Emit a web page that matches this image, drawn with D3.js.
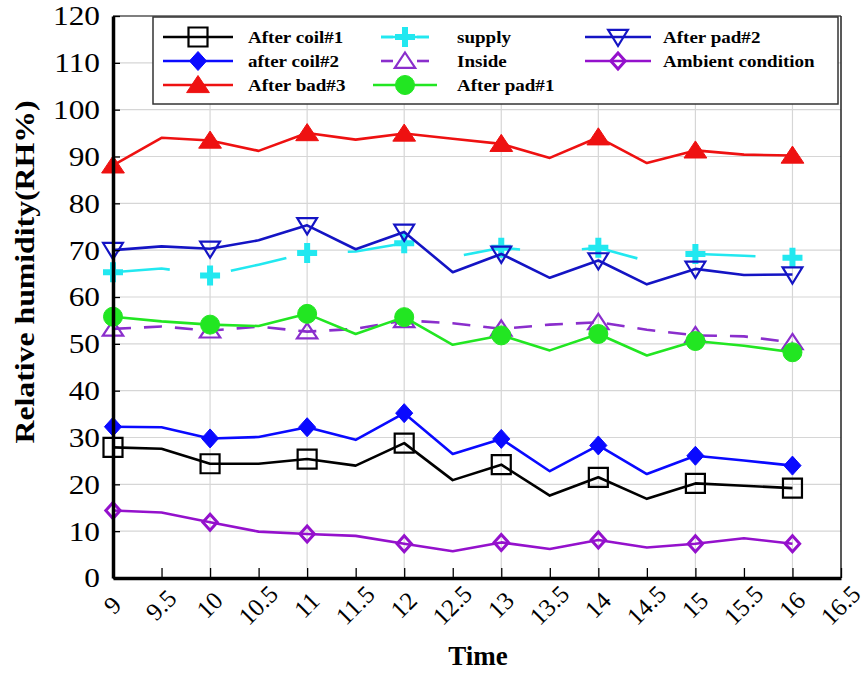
<!DOCTYPE html>
<html><head><meta charset="utf-8">
<script src="https://cdn.jsdelivr.net/npm/d3@7"></script>
<style>body{margin:0;background:#fff}</style></head><body>
<svg id="c" width="867" height="673"></svg>
<script>
const times=[9,9.5,10,10.5,11,11.5,12,12.5,13,13.5,14,14.5,15,15.5,16];
const xTicks=[9,9.5,10,10.5,11,11.5,12,12.5,13,13.5,14,14.5,15,15.5,16,16.5];
const yTicks=[0,10,20,30,40,50,60,70,80,90,100,110,120];
const afterCoil1=[27.9,27.6,24.4,24.4,25.4,24.0,28.8,20.9,24.2,17.6,21.5,16.9,20.2,19.7,19.2];
const afterCoil2=[32.3,32.2,29.8,30.1,32.2,29.5,35.2,26.5,29.7,22.8,28.3,22.2,26.1,25.1,24.0];
const afterBad3=[88.1,94.0,93.4,91.2,95.0,93.6,94.9,93.8,92.7,89.7,94.1,88.6,91.3,90.4,90.2];
const supply=[65.3,66.1,64.6,66.9,69.4,69.7,71.5,68.5,70.5,69.6,70.5,67.7,69.2,68.8,68.4];
const inside=[53.2,53.7,52.8,53.7,52.6,53.2,55.0,54.4,53.2,54.1,54.6,53.0,51.8,51.6,50.3];
const afterPad1=[55.8,54.8,54.1,53.8,56.4,52.1,55.7,49.8,51.8,48.6,52.1,47.5,50.6,49.6,48.2];
const afterPad2=[70.0,70.8,70.3,72.1,75.3,70.2,73.9,65.3,69.2,64.1,67.8,62.7,66.0,64.7,64.8];
const ambient=[14.4,14.0,11.9,9.9,9.4,9.0,7.3,5.7,7.6,6.2,8.1,6.5,7.3,8.5,7.3];
const seriesNames=["After coil#1","after coil#2","After bad#3","supply","Inside","After pad#1","After pad#2","Ambient condition"];
const seriesValues=[afterCoil1,afterCoil2,afterBad3,supply,inside,afterPad1,afterPad2,ambient];
const xLabel="Time", yLabel="Relative humidity(RH%)";

const styles=[
 {color:"#000000",marker:"square",dash:null},
 {color:"#0a0aff",marker:"diamond",dash:null},
 {color:"#ee1111",marker:"triangle",dash:null},
 {color:"#22e8f0",marker:"plus",dash:"57,62"},
 {color:"#8a2ecc",marker:"triangleOpen",dash:"18,13"},
 {color:"#22e622",marker:"circle",dash:null},
 {color:"#1414c4",marker:"triangleDown",dash:null},
 {color:"#9411cc",marker:"diamondOpen",dash:null}
];

const svg=d3.select("#c");
const x=d3.scaleLinear().domain([9,16.5]).range([113,841]);
const y=d3.scaleLinear().domain([0,120]).range([578,16]);
const serif="'Liberation Serif','Times New Roman',serif";

// grid
const grid=svg.append("g");
grid.selectAll("line.v").data(d3.range(10,17)).enter().append("line")
 .attr("x1",d=>x(d)).attr("x2",d=>x(d)).attr("y1",y(0)).attr("y2",y(120))
 .attr("stroke","#d6d6d6").attr("stroke-width",1.2);
grid.selectAll("line.h").data(yTicks.filter(d=>d>0&&d<120)).enter().append("line")
 .attr("x1",x(9)).attr("x2",x(16.5)).attr("y1",d=>y(d)).attr("y2",d=>y(d))
 .attr("stroke","#d6d6d6").attr("stroke-width",1.2);

// frame top/right
svg.append("line").attr("x1",x(9)).attr("x2",x(16.5)).attr("y1",y(120)).attr("y2",y(120)).attr("stroke","#555").attr("stroke-width",1.5);
svg.append("line").attr("x1",x(16.5)).attr("x2",x(16.5)).attr("y1",y(120)).attr("y2",y(0)).attr("stroke","#222").attr("stroke-width",1.5);

function markerPath(type,s){
 const p=d3.path();
 if(type==="square"){p.rect(-s/2,-s/2,s,s);}
 else if(type==="diamond"||type==="diamondOpen"){p.moveTo(0,-s/2);p.lineTo(s*0.45,0);p.lineTo(0,s/2);p.lineTo(-s*0.45,0);p.closePath();}
 else if(type==="triangle"||type==="triangleOpen"){p.moveTo(0,-s*0.5);p.lineTo(s*0.6,s*0.4);p.lineTo(-s*0.6,s*0.4);p.closePath();}
 else if(type==="triangleDown"){p.moveTo(0,s*0.5);p.lineTo(s*0.55,-s*0.4);p.lineTo(-s*0.55,-s*0.4);p.closePath();}
 else if(type==="circle"){p.arc(0,0,s/2,0,Math.PI*2);}
 else if(type==="plus"){p.moveTo(-s/2,0);p.lineTo(s/2,0);p.moveTo(0,-s/2);p.lineTo(0,s/2);}
 return p.toString();
}
function drawMarker(g,type,color,cx,cy){
 const sizes={square:19,diamond:19,triangle:19,plus:20,triangleOpen:17,circle:19,triangleDown:18,diamondOpen:16};
 const m=g.append("path").attr("d",markerPath(type,sizes[type])).attr("transform",`translate(${cx},${cy})`);
 if(type==="square"||type==="triangleOpen"||type==="triangleDown"||type==="diamondOpen"){
  m.attr("fill","none").attr("stroke",color).attr("stroke-width",type==="diamondOpen"?3:2.2);
 } else if(type==="plus"){
  m.attr("fill","none").attr("stroke",color).attr("stroke-width",6);
 } else {
  m.attr("fill",color).attr("stroke",color).attr("stroke-width",1);
 }
}

const line=d3.line().x(d=>x(d[0])).y(d=>y(d[1]));
seriesValues.forEach((vals,i)=>{
 const st=styles[i];
 const g=svg.append("g");
 const pts=times.map((t,j)=>[t,vals[j]]);
 g.append("path").attr("d",line(pts)).attr("fill","none").attr("stroke",st.color)
  .attr("stroke-width",2.6).attr("stroke-dasharray",st.dash).attr("stroke-linejoin","round");
 pts.filter(p=>Number.isInteger(p[0])).forEach(p=>drawMarker(g,st.marker,st.color,x(p[0]),y(p[1])));
});

// axes
const xAxis=svg.append("g").attr("transform",`translate(0,${y(0)})`)
 .call(d3.axisBottom(x).tickValues(xTicks).tickSizeInner(-10).tickSizeOuter(0).tickFormat(d=>d));
xAxis.select(".domain").attr("stroke","#000").attr("stroke-width",3.5);
xAxis.selectAll(".tick line").attr("stroke","#000").attr("stroke-width",1.3);
xAxis.selectAll(".tick text").attr("y",0).attr("dy",null).attr("x",0)
 .attr("text-anchor","middle").attr("dominant-baseline","central")
 .attr("transform","translate(-1,27) rotate(-45)")
 .attr("font-family",serif).attr("font-size",25).attr("fill","#000");

const yAxis=svg.append("g").attr("transform",`translate(${x(9)},0)`)
 .call(d3.axisLeft(y).tickValues(yTicks).tickSizeInner(-7).tickSizeOuter(0).tickPadding(13));
yAxis.select(".domain").attr("stroke","#000").attr("stroke-width",3.5);
yAxis.selectAll(".tick line").attr("stroke","#000").attr("stroke-width",1.3);
yAxis.selectAll(".tick text").attr("x",-13/1.12).attr("transform","scale(1.12,1)")
 .attr("font-family",serif).attr("font-size",28).attr("fill","#000");

// axis titles
svg.append("text").attr("x",478).attr("y",665).attr("text-anchor","middle")
 .attr("font-family",serif).attr("font-weight","bold").attr("font-size",27).text(xLabel);
svg.append("text").attr("transform","translate(34,272) rotate(-90)").attr("text-anchor","middle")
 .attr("font-family",serif).attr("font-weight","bold").attr("font-size",27)
 .attr("textLength",343).attr("lengthAdjust","spacingAndGlyphs").text(yLabel);

// legend
const lg=svg.append("g");
lg.append("rect").attr("x",153).attr("y",17).attr("width",685).attr("height",87)
 .attr("fill","#fff").attr("stroke","#333").attr("stroke-width",1.5);
const colX=[[163,233,248],[373,437,457],[585,651,663]];
const rowY=[37,61,85];
seriesNames.forEach((name,i)=>{
 const col=Math.floor(i/3), row=i%3, st=styles[i];
 const [x1,x2,tx]=colX[col]; const cy=rowY[row];
 const g=lg.append("g");
 if(st.dash){
  g.append("line").attr("x1",x1+8).attr("x2",x1+20).attr("y1",cy).attr("y2",cy).attr("stroke",st.color).attr("stroke-width",2.6);
  g.append("line").attr("x1",x2-20).attr("x2",x2-8).attr("y1",cy).attr("y2",cy).attr("stroke",st.color).attr("stroke-width",2.6);
  if(st.marker==="plus"){g.append("line").attr("x1",x1+8).attr("x2",x2-8).attr("y1",cy).attr("y2",cy).attr("stroke",st.color).attr("stroke-width",2.6);}
 } else {
  g.append("line").attr("x1",x1).attr("x2",x2).attr("y1",cy).attr("y2",cy).attr("stroke",st.color).attr("stroke-width",2.6);
 }
 drawMarker(g,st.marker,st.color,(x1+x2)/2,cy);
 g.append("text").attr("transform",`translate(${tx},${cy+6}) scale(1.12,1)`)
  .attr("font-family",serif).attr("font-weight","bold").attr("font-size",17).text(name);
});
</script>
</body></html>
